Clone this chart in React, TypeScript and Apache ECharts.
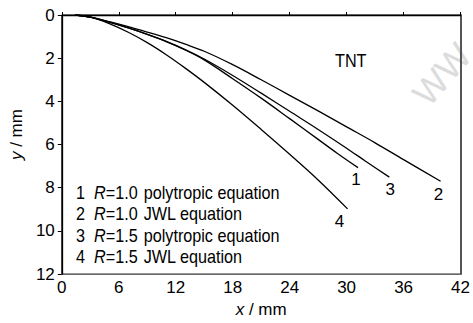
import React, { useEffect, useRef } from "react";
import * as echarts from "echarts";

// Curve 1: R=1.0 polytropic equation
const x1 = [1.4, 3, 5, 7, 9, 11, 13, 15, 18, 21, 24, 27, 29, 31.2];
const y1 = [0, 0.1, 0.33, 0.6, 0.9, 1.23, 1.62, 2.08, 2.95, 3.85, 4.8, 5.76, 6.4, 7.07];
// Curve 2: R=1.0 JWL equation
const x2 = [1.4, 3, 5, 7, 9, 11, 13, 15, 18, 21, 24, 27, 30, 33, 36, 39.9];
const y2 = [0, 0.1, 0.31, 0.54, 0.79, 1.05, 1.35, 1.68, 2.3, 3.0, 3.72, 4.44, 5.18, 5.92, 6.7, 7.7];
// Curve 3: R=1.5 polytropic equation
const x3 = [1.4, 3, 5, 7, 9, 11, 13, 15, 18, 21, 24, 27, 30, 32, 34.5];
const y3 = [0, 0.1, 0.33, 0.6, 0.9, 1.22, 1.6, 2.04, 2.8, 3.62, 4.46, 5.3, 6.17, 6.77, 7.51];
// Curve 4: R=1.5 JWL equation
const x4 = [1.4, 3, 5, 7, 9, 11, 13, 15, 18, 21, 24, 27, 30.1];
const y4 = [0, 0.1, 0.4, 0.8, 1.28, 1.84, 2.46, 3.12, 4.18, 5.3, 6.45, 7.64, 8.98];

const curveIds = ["1", "2", "3", "4"];
const legendR = ["1.0", "1.0", "1.5", "1.5"];
const legendEq = ["polytropic equation", "JWL equation", "polytropic equation", "JWL equation"];

const FONT = '"Liberation Sans", Arial, sans-serif';

export default function App() {
  const ref = useRef<HTMLDivElement>(null);
  useEffect(() => {
    if (!ref.current) return;
    const chart = echarts.init(ref.current, null, { renderer: "svg" });
    const xs = [x1, x2, x3, x4];
    const ys = [y1, y2, y3, y4];
    const labelOffsets = [[-2, 0], [-2, 1], [1, 0], [-8, 1]];
    const series = xs.map((xa, si) => ({
      type: "line",
      name: curveIds[si],
      smooth: 0.35,
      symbol: "circle",
      symbolSize: 1,
      showSymbol: true,
      itemStyle: { color: "rgba(0,0,0,0)" },
      lineStyle: { color: "#000", width: 1.3 },
      data: xa.map((x, i) => {
        const item: any = { value: [x, ys[si][i]] };
        if (i === xa.length - 1) {
          item.label = {
            show: true,
            formatter: curveIds[si],
            position: "bottom",
            distance: 3,
            offset: labelOffsets[si],
            fontFamily: FONT,
            fontSize: 17,
            color: "#000",
          };
        }
        return item;
      }),
    }));

    const legendTexts = curveIds.map((id, i) => ({
      type: "text",
      x: 76,
      y: 184 + i * 21.5,
      scaleX: 0.9,
      style: {
        text: `{n|${id}}   {i|R}{n|=${legendR[i]}}  {n|${legendEq[i]}}`,
        rich: {
          n: { fontFamily: FONT, fontSize: 18, fill: "#000" },
          i: { fontFamily: FONT, fontSize: 18, fontStyle: "italic", fill: "#000" },
        },
      },
    }));

    chart.setOption({
      animation: false,
      grid: {
        left: 60,
        top: 15,
        right: 8,
        bottom: 38,
        show: true,
        borderColor: "#000",
        borderWidth: 1,
        backgroundColor: "transparent",
      },
      xAxis: {
        type: "value",
        min: 0,
        max: 42,
        interval: 6,
        splitLine: { show: false },
        axisLine: { lineStyle: { color: "#000", width: 1.3 } },
        axisTick: { inside: true, length: 3, lineStyle: { color: "#000" } },
        axisLabel: { margin: 5, color: "#000", fontFamily: FONT, fontSize: 17 },
        name: "{i|x} / mm",
        nameLocation: "middle",
        nameGap: 24,
        nameTextStyle: {
          color: "#000",
          fontFamily: FONT,
          fontSize: 17,
          rich: {
            i: { fontFamily: FONT, fontSize: 17, fontStyle: "italic", color: "#000" },
          },
        },
      },
      yAxis: [
        {
          type: "value",
          inverse: true,
          min: 0,
          max: 12,
          interval: 2,
          splitLine: { show: false },
          axisLine: { lineStyle: { color: "#000", width: 1.3 } },
          axisTick: { inside: false, length: 4, lineStyle: { color: "#000" } },
          axisLabel: { margin: 7, color: "#000", fontFamily: FONT, fontSize: 17 },
          name: "{i|y} / mm",
          nameLocation: "middle",
          nameGap: 34,
          nameTextStyle: {
            color: "#000",
            fontFamily: FONT,
            fontSize: 17,
            padding: [0, 0, 0, 20],
            rich: {
              i: { fontFamily: FONT, fontSize: 17, fontStyle: "italic", color: "#000" },
            },
          },
        },
        {
          type: "value",
          position: "right",
          inverse: true,
          min: 0,
          max: 12,
          interval: 2,
          splitLine: { show: false },
          axisLine: { show: true, lineStyle: { color: "#555", width: 2 } },
          axisTick: { show: false },
          axisLabel: { show: false },
        },
      ],
      series,
      graphic: [
        ...legendTexts,
        {
          type: "text",
          x: 335,
          y: 52,
          scaleX: 0.9,
          style: { text: "TNT", fontFamily: FONT, fontSize: 18, fill: "#000" },
        },
        {
          type: "text",
          x: 406,
          y: 88,
          rotation: 0.85,
          silent: true,
          style: { text: "WW", fontFamily: FONT, fontSize: 36, fill: "#dcdcdc" },
        },
      ],
    });
    return () => chart.dispose();
  }, []);
  return (
    <div
      ref={ref}
      style={{ position: "fixed", left: 0, top: 0, width: 473, height: 323, background: "#fff" }}
    />
  );
}
